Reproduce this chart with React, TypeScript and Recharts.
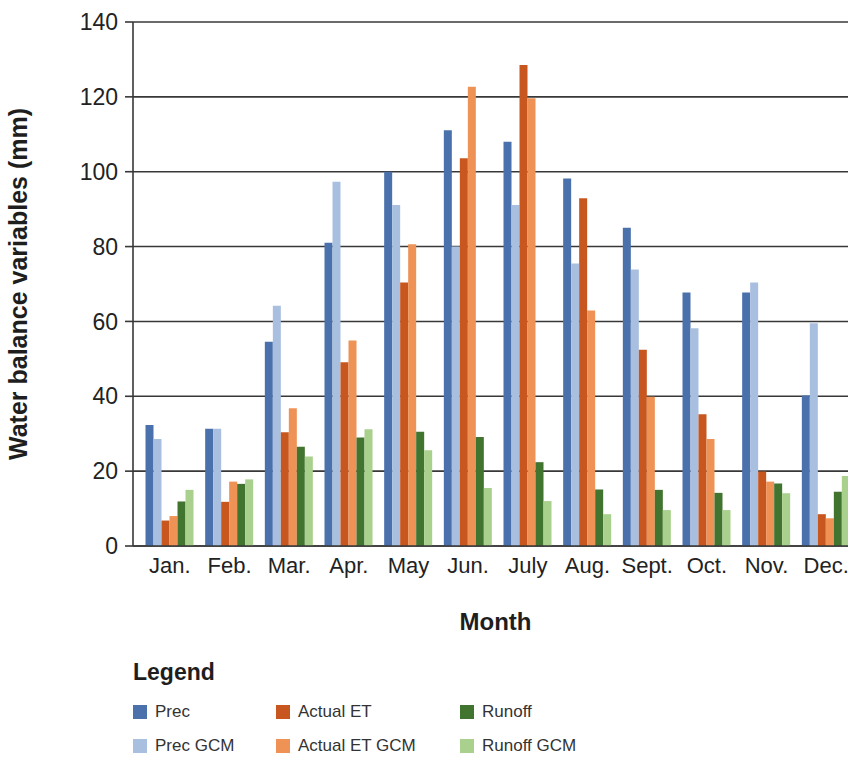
import { BarChart, Bar, XAxis, YAxis, CartesianGrid, Legend } from "recharts";

const months = ["Jan.", "Feb.", "Mar.", "Apr.", "May", "Jun.", "July", "Aug.", "Sept.", "Oct.", "Nov.", "Dec."];
const prec = [32.3, 31.3, 54.6, 81, 100, 111.1, 108, 98.2, 85, 67.7, 67.7, 40.2];
const precGcm = [28.6, 31.3, 64.2, 97.3, 91.1, 80, 91.1, 75.5, 73.9, 58.2, 70.4, 59.5];
const actualEt = [6.8, 11.8, 30.4, 49.1, 70.4, 103.6, 128.5, 92.9, 52.4, 35.2, 19.9, 8.5];
const actualEtGcm = [8.0, 17.2, 36.8, 54.9, 80.6, 122.7, 119.6, 62.9, 39.9, 28.6, 17.2, 7.4];
const runoff = [11.9, 16.6, 26.5, 29.0, 30.5, 29.1, 22.4, 15.1, 15.0, 14.2, 16.7, 14.5];
const runoffGcm = [15.0, 17.8, 23.9, 31.2, 25.6, 15.5, 12.0, 8.5, 9.6, 9.6, 14.1, 18.7];
const yTicks = [0, 20, 40, 60, 80, 100, 120, 140];

const data = months.map((m, i) => ({
  month: m,
  prec: prec[i],
  precGcm: precGcm[i],
  actualEt: actualEt[i],
  actualEtGcm: actualEtGcm[i],
  runoff: runoff[i],
  runoffGcm: runoffGcm[i],
}));

const series = [
  { key: "prec", name: "Prec", color: "#4a71ac" },
  { key: "precGcm", name: "Prec GCM", color: "#a9bfe0" },
  { key: "actualEt", name: "Actual ET", color: "#c8571f" },
  { key: "actualEtGcm", name: "Actual ET GCM", color: "#ee9256" },
  { key: "runoff", name: "Runoff", color: "#41742f" },
  { key: "runoffGcm", name: "Runoff GCM", color: "#a9d08c" },
];

const font = "'Liberation Sans', Arial, sans-serif";
const lineColor = "#383838";

// legend keeps series order: two rows, filled column by column
function LegendBox(props: any) {
  const order = series.map((s) => s.name);
  const items = [...(props.payload || [])].sort((a: any, b: any) => order.indexOf(a.value) - order.indexOf(b.value));
  return (
    <div style={{ fontFamily: font, color: "#333", textAlign: "left" }}>
      <div style={{ fontSize: 23, fontWeight: "bold", lineHeight: "28px", color: "#1e1e1e" }}>Legend</div>
      <div
        style={{
          marginTop: 9,
          display: "grid",
          gridAutoFlow: "column",
          gridTemplateRows: "34px 34px",
          gridTemplateColumns: "143px 184px 200px",
        }}
      >
        {items.map((it: any) => (
          <div key={it.value} style={{ display: "flex", alignItems: "center", fontSize: 17 }}>
            <span style={{ width: 14, height: 14, background: it.color, marginRight: 8, display: "inline-block" }} />
            {it.value}
          </div>
        ))}
      </div>
    </div>
  );
}

function YTitle(props: any) {
  const vb = props.viewBox;
  const cy = vb.y + vb.height / 2;
  return (
    <text
      x={27}
      y={cy}
      transform={`rotate(-90, 27, ${cy})`}
      textAnchor="middle"
      fontFamily={font}
      fontWeight="bold"
      fontSize={25}
      fill="#1e1e1e"
    >
      Water balance variables (mm)
    </text>
  );
}

function XTitle(props: any) {
  const vb = props.viewBox;
  const cx = vb.x + vb.width / 2 - 6;
  return (
    <text x={cx} y={vb.y + 84} textAnchor="middle" fontFamily={font} fontWeight="bold" fontSize={24} fill="#1e1e1e">
      Month
    </text>
  );
}

export default function App() {
  return (
    <div style={{ position: "fixed", left: 0, top: 0, width: 848, height: 757, overflow: "hidden", background: "#fff" }}>
      <BarChart
        width={870}
        height={757}
        data={data}
        margin={{ top: 22, right: 0, bottom: 111, left: 0 }}
        barCategoryGap={5.5}
        barGap={0}
      >
        <CartesianGrid vertical={false} stroke={lineColor} strokeWidth={1.6} />
        <XAxis
          dataKey="month"
          padding={{ left: 7, right: 14 }}
          height={100}
          tickLine={false}
          tickSize={0}
          tickMargin={11}
          axisLine={{ stroke: lineColor, strokeWidth: 1.6 }}
          tick={{ fontSize: 22, fill: "#222", fontFamily: font }}
          interval={0}
          label={<XTitle />}
        />
        <YAxis
          width={133}
          domain={[0, 140]}
          ticks={yTicks}
          tickSize={8}
          tickMargin={7}
          axisLine={{ stroke: lineColor, strokeWidth: 1.6 }}
          tickLine={{ stroke: lineColor, strokeWidth: 1.6 }}
          tick={{ fontSize: 23, fill: "#222", fontFamily: font }}
          label={<YTitle />}
        />
        <Legend
          layout="vertical"
          verticalAlign="middle"
          align="center"
          wrapperStyle={{ top: 658, left: 133, width: 600 }}
          content={<LegendBox />}
        />
        {series.map((s) => (
          <Bar key={s.key} dataKey={s.key} name={s.name} fill={s.color} isAnimationActive={false} />
        ))}
      </BarChart>
    </div>
  );
}
